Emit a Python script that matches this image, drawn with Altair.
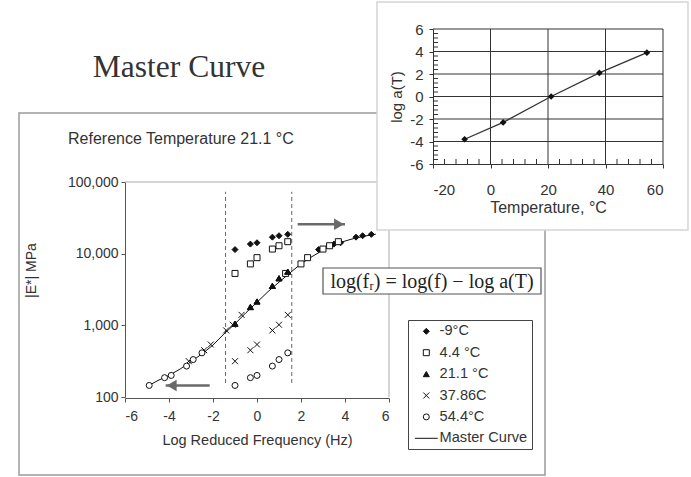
import altair as alt
import pandas as pd
import numpy as np

# ---------------- data ----------------
log_freq = [-1.0, -0.301, 0.0, 0.699, 1.0, 1.398]          # log10 of test frequencies (Hz)
series_names = ["-9°C", "4.4 °C", "21.1 °C", "37.86C", "54.4°C"]
temperatures = [-9.0, 4.4, 21.1, 37.86, 54.4]
log_aT = [-3.8, -2.3, 0.0, 2.1, 3.9]                          # shift factors (inset)
E_m9 = [11400, 13600, 14200, 17000, 17800, 18600]
E_4p4 = [5300, 7200, 8800, 11600, 12900, 14700]
E_21p1 = [1055, 1800, 2150, 3560, 4540, 5620]
E_37p86 = [316, 450, 540, 850, 1020, 1400]
E_54p4 = [145, 186, 200, 270, 333, 413]

master_logfr = [-4.95, -4.5, -4.0, -3.5, -3.0, -2.5, -2.0, -1.5, -1.0, -0.5, 0.0,
                0.5, 1.0, 1.5, 2.0, 2.5, 3.0, 3.5, 4.0, 4.5, 5.0, 5.4]
master_E = [143, 170, 200, 245, 310, 400, 530, 760, 1050, 1500, 2100,
            2950, 4000, 5400, 7200, 9100, 11200, 13200, 15000, 16600, 17800, 18700]

window_x = [-1.43, 1.58]
window_E_low = 157
window_E_high = 73000
arrow_right_x = [1.85, 4.0]
arrow_right_E = 25700
arrow_left_x = [-2.15, -4.15]
arrow_left_E = 145

main_x_ticks = [-6, -4, -2, 0, 2, 4, 6]
main_y_ticks = [100, 1000, 10000, 100000]
inset_x_ticks = [-20, 0, 20, 40, 60]
inset_y_ticks = [-6, -4, -2, 0, 2, 4, 6]
inset_grid_y = [-4, -2, 0, 2, 4, 6]
inset_grid_x = [0, 20, 40, 60]
inset_minor_x = [v for v in range(-16, 60, 4) if v % 20 != 0]
inset_minor_y = [round(v, 1) for v in np.arange(-5.6, 5.7, 0.4) if abs(v / 2 - round(v / 2)) > 1e-6]

legend_names = series_names + ["Master Curve"]
shape_range = ["diamond", "square", "triangle-up", "M-1,-1L1,1M-1,1L1,-1", "circle", "M-3.8,0H3.8"]
fill_range = ["#111", "white", "#111", "transparent", "white", "transparent"]
stroke_range = ["#111"] * 6

# ---------------- tables ----------------
rows = []
for name, la, Es in zip(series_names, log_aT, [E_m9, E_4p4, E_21p1, E_37p86, E_54p4]):
    for lf, e in zip(log_freq, Es):
        rows.append({"x": lf, "E": e, "series": name})          # measured
        rows.append({"x": lf - la, "E": e, "series": name})     # shifted onto master curve
df_pts = pd.DataFrame(rows)
df_master = pd.DataFrame({"x": master_logfr, "E": master_E})
df_win = pd.DataFrame({"x": window_x, "E": [window_E_low] * 2, "E2": [window_E_high] * 2})
df_ar = pd.DataFrame({"x": [arrow_right_x[0]], "x2": [arrow_right_x[1]], "E": [arrow_right_E]})
df_al = pd.DataFrame({"x": [arrow_left_x[0]], "x2": [arrow_left_x[1]], "E": [arrow_left_E]})
df_shift = pd.DataFrame({"T": temperatures, "loga": log_aT})
one = pd.DataFrame({"k": [0]})

FONT = "Liberation Sans"
TXT = "#333333"
HYPHEN = "toString(datum.value)"

# ---------------- main chart scales / axes ----------------
x_main = alt.Scale(domain=[-6, 6], range=[125, 389], nice=False, zero=False)
y_main = alt.Scale(type="log", domain=[100, 100000], range=[397, 182], nice=False)
ax_main_x = alt.Axis(orient="bottom", offset=-79, values=main_x_ticks, title="Log Reduced Frequency (Hz)",
                     labelExpr=HYPHEN,
                     grid=False, domainColor="#555", tickColor="#555", tickSize=4, labelPadding=7,
                     labelFont=FONT, labelFontSize=14, labelColor=TXT, titleFont=FONT, titleFontSize=14.5,
                     titleFontWeight="normal", titleColor=TXT, titlePadding=10)
ax_main_y = alt.Axis(orient="left", offset=-125, values=main_y_ticks, format=",", title="|E*| MPa",
                     grid=False, domainColor="#555", tickColor="#555", tickSize=4, labelPadding=3,
                     labelFont=FONT, labelFontSize=14, labelColor=TXT, titleFont=FONT, titleFontSize=14,
                     titleFontWeight="normal", titleColor=TXT, titlePadding=29, titleY=270)


def mx(f="x"):
    return alt.X(f, type="quantitative", scale=x_main, axis=ax_main_x)


def my(f="E"):
    return alt.Y(f, type="quantitative", scale=y_main, axis=ax_main_y)


leg = alt.Legend(orient="none", legendX=408, legendY=320, title=None, direction="vertical",
                 padding=4, rowPadding=6.4, symbolSize=36, symbolOffset=7, labelOffset=6,
                 labelFont=FONT, labelFontSize=14.6, labelColor=TXT, strokeColor="#444",
                 fillColor="white", symbolStrokeColor="#111", symbolStrokeWidth=1)

frame = alt.Chart(one).mark_rect(fill="transparent", stroke="#9a9a9a", strokeWidth=1.5).encode(
    x=alt.value(19), x2=alt.value(545), y=alt.value(113), y2=alt.value(475))
title_txt = alt.Chart(one).mark_text(text="Master Curve", font="Liberation Serif", fontSize=31.5,
                                     color=TXT, align="center", baseline="middle").encode(
    x=alt.value(179), y=alt.value(68))
ref_txt = alt.Chart(one).mark_text(text="Reference Temperature 21.1 °C", font=FONT, fontSize=16,
                                   color=TXT, align="left", baseline="middle").encode(
    x=alt.value(68), y=alt.value(139))
top_border = alt.Chart(one).mark_rule(color="#aaaaaa", strokeWidth=1).encode(
    x=alt.XDatum(-6, scale=x_main, axis=ax_main_x), x2=alt.X2Datum(6),
    y=alt.YDatum(100000, scale=y_main, axis=ax_main_y))
right_border = alt.Chart(one).mark_rule(color="#aaaaaa", strokeWidth=1).encode(
    x=alt.XDatum(6, scale=x_main, axis=ax_main_x),
    y=alt.YDatum(100, scale=y_main, axis=ax_main_y), y2=alt.Y2Datum(100000))
windows = alt.Chart(df_win).mark_rule(color="#666", strokeWidth=1, strokeDash=[4, 3]).encode(
    x=mx(), y=my(), y2="E2")
ar_shaft = alt.Chart(df_ar).mark_rule(color="#6a6a6a", strokeWidth=2.5).encode(x=mx(), x2="x2", y=my())
ar_head = alt.Chart(df_ar).mark_point(shape="triangle-right", filled=True, size=130, color="#6a6a6a",
                                      opacity=1, xOffset=-6).encode(x=mx("x2"), y=my())
al_shaft = alt.Chart(df_al).mark_rule(color="#6a6a6a", strokeWidth=2.5).encode(x=mx(), x2="x2", y=my())
al_head = alt.Chart(df_al).mark_point(shape="triangle-left", filled=True, size=130, color="#6a6a6a",
                                      opacity=1, xOffset=6).encode(x=mx("x2"), y=my())
master = alt.Chart(df_master).mark_line(color="#111", strokeWidth=1).encode(x=mx(), y=my())
points = alt.Chart(df_pts).mark_point(size=36, strokeWidth=1, opacity=1).encode(
    x=mx(), y=my(),
    shape=alt.Shape("series:N", scale=alt.Scale(domain=legend_names, range=shape_range), legend=leg),
    fill=alt.Fill("series:N", scale=alt.Scale(domain=legend_names, range=fill_range), legend=leg),
    stroke=alt.Stroke("series:N", scale=alt.Scale(domain=legend_names, range=stroke_range), legend=leg))
formula_box = alt.Chart(one).mark_rect(fill="white", stroke="#555", strokeWidth=1.2).encode(
    x=alt.value(323), x2=alt.value(541), y=alt.value(268), y2=alt.value(294))
formula_txt = alt.Chart(one).mark_text(text="log(fᵣ) = log(f) − log a(T)", font="Liberation Serif",
                                       fontSize=20, color="#222", align="center", baseline="middle").encode(
    x=alt.value(432), y=alt.value(282))

main = alt.layer(frame, title_txt, ref_txt, top_border, right_border, windows, ar_shaft, ar_head,
                 al_shaft, al_head, master, points, formula_box, formula_txt)

# ---------------- inset chart ----------------
x_in = alt.Scale(domain=[-20, 60], range=[433, 663], nice=False, zero=False)
y_in = alt.Scale(domain=[-6, 6], range=[164, 29], nice=False, zero=False)
ax_in_x = alt.Axis(orient="bottom", offset=-313, values=inset_x_ticks, title="Temperature, °C", grid=False,
                   labelExpr=HYPHEN,
                   zindex=1, domainColor="#333", tickColor="#333", tickSize=4, labelPadding=14,
                   labelFont=FONT, labelFontSize=15, labelColor=TXT, titleFont=FONT, titleFontSize=16,
                   titleFontWeight="normal", titleColor=TXT, titlePadding=2)
ax_in_y = alt.Axis(orient="left", offset=-433, values=inset_y_ticks, title="log a(T)", grid=False,
                   labelExpr=HYPHEN,
                   zindex=1, domainColor="#333", tickColor="#333", tickSize=4, labelPadding=6,
                   labelFont=FONT, labelFontSize=15, labelColor=TXT, titleFont=FONT, titleFontSize=15,
                   titleFontWeight="normal", titleColor=TXT, titlePadding=5)

inset_box = alt.Chart(one).mark_rect(fill="white", stroke="#d5d5d5", strokeWidth=1.5).encode(
    x=alt.value(377), x2=alt.value(688), y=alt.value(2), y2=alt.value(230))
hgrid = alt.Chart(pd.DataFrame({"gy": inset_grid_y})).mark_rule(color="#333", strokeWidth=1).encode(
    y=alt.Y("gy:Q", scale=y_in, axis=ax_in_y),
    x=alt.XDatum(-20, scale=x_in, axis=ax_in_x), x2=alt.X2Datum(60))
vgrid = alt.Chart(pd.DataFrame({"gx": inset_grid_x})).mark_rule(color="#333", strokeWidth=1).encode(
    x=alt.X("gx:Q", scale=x_in, axis=ax_in_x),
    y=alt.YDatum(-6, scale=y_in, axis=ax_in_y), y2=alt.Y2Datum(6))
minor_x = alt.Chart(pd.DataFrame({"mx": inset_minor_x})).mark_tick(
    orient="vertical", size=5, thickness=1, color="#333", opacity=1, yOffset=-2.5).encode(
    x=alt.X("mx:Q", scale=x_in, axis=ax_in_x), y=alt.YDatum(-6, scale=y_in, axis=ax_in_y))
minor_y = alt.Chart(pd.DataFrame({"my": inset_minor_y})).mark_tick(
    orient="horizontal", size=5, thickness=1, color="#333", opacity=1, xOffset=2.5).encode(
    y=alt.Y("my:Q", scale=y_in, axis=ax_in_y), x=alt.XDatum(-20, scale=x_in, axis=ax_in_x))
shift_line = alt.Chart(df_shift).mark_line(color="#333", strokeWidth=1.3).encode(
    x=alt.X("T:Q", scale=x_in, axis=ax_in_x), y=alt.Y("loga:Q", scale=y_in, axis=ax_in_y))
shift_pts = alt.Chart(df_shift).mark_point(shape="diamond", filled=True, size=45, color="#111",
                                           opacity=1).encode(
    x=alt.X("T:Q", scale=x_in, axis=ax_in_x), y=alt.Y("loga:Q", scale=y_in, axis=ax_in_y))

inset = alt.layer(inset_box, hgrid, vgrid, minor_x, minor_y, shift_line, shift_pts)

chart = alt.layer(main, inset).resolve_scale(x="independent", y="independent").properties(
    width=691, height=477, padding=0,
    autosize=alt.AutoSizeParams(type="none", contains="padding"),
    background="white",
).configure_view(strokeWidth=0)

chart.save("out.html", embed_options={"renderer": "svg", "actions": False})
